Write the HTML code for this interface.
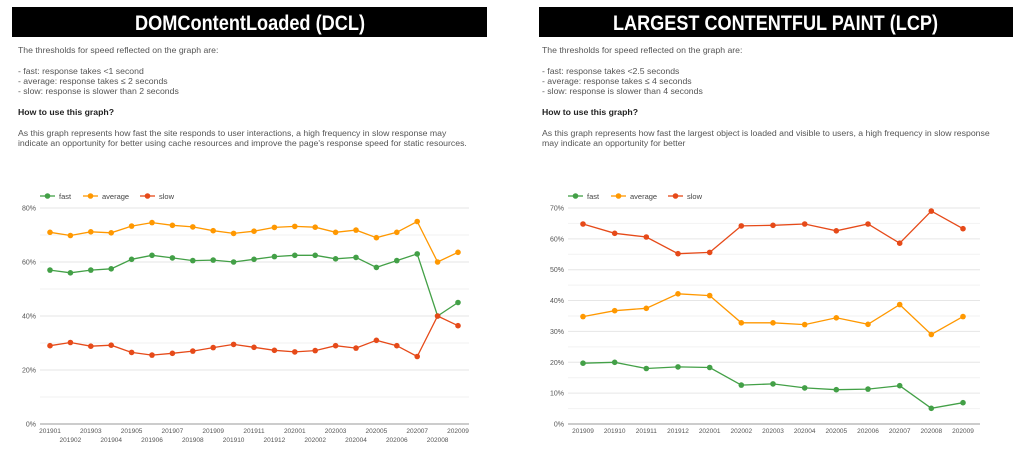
<!DOCTYPE html>
<html><head><meta charset="utf-8"><style>
body{margin:0;width:1024px;height:458px;background:#fff;overflow:hidden;font-family:"Liberation Sans",sans-serif}
svg{position:absolute;left:0;top:0}
</style></head><body>
<svg id="s" width="1024" height="458" xmlns="http://www.w3.org/2000/svg" font-family="Liberation Sans, sans-serif">
<rect x="12" y="7" width="475" height="30" fill="#000"/>
<text x="135" y="30" fill="#fff" font-size="21" font-weight="bold" textLength="230" lengthAdjust="spacingAndGlyphs">DOMContentLoaded (DCL)</text>
<rect x="539" y="7" width="474" height="30" fill="#000"/>
<text x="613" y="30" fill="#fff" font-size="21" font-weight="bold" textLength="325" lengthAdjust="spacingAndGlyphs">LARGEST CONTENTFUL PAINT (LCP)</text>
<g font-size="8.7" fill="#555">
<text x="18" y="53">The thresholds for speed reflected on the graph are:</text>
<text x="18" y="74">- fast: response takes &lt;1 second</text>
<text x="18" y="84">- average: response takes ≤ 2 seconds</text>
<text x="18" y="94">- slow: response is slower than 2 seconds</text>
<text x="18" y="115" font-weight="bold" fill="#222">How to use this graph?</text>
<text x="18" y="136">As this graph represents how fast the site responds to user interactions, a high frequency in slow response may</text>
<text x="18" y="146">indicate an opportunity for better using cache resources and improve the page's response speed for static resources.</text>
<text x="542" y="53">The thresholds for speed reflected on the graph are:</text>
<text x="542" y="74">- fast: response takes &lt;2.5 seconds</text>
<text x="542" y="84">- average: response takes ≤ 4 seconds</text>
<text x="542" y="94">- slow: response is slower than 4 seconds</text>
<text x="542" y="115" font-weight="bold" fill="#222">How to use this graph?</text>
<text x="542" y="136">As this graph represents how fast the largest object is loaded and visible to users, a high frequency in slow response</text>
<text x="542" y="146">may indicate an opportunity for better</text>
</g>
<g id="c"></g>
</svg>
<script>
var g=document.getElementById('c'),h='';
var C={f:'#43a047',a:'#ff9800',s:'#e64a19'};
function chart(o){
 var x0=o.x0,x1=o.x1,y0=424,sc=o.sc;
 for(var v=0;v<=o.max;v+=o.minor){var y=y0-v*sc;h+='<line x1="'+x0+'" x2="'+x1+'" y1="'+y+'" y2="'+y+'" stroke="'+(v%o.major==0?'#e6e6e6':'#f2f2f2')+'" stroke-width="1"/>';
  if(v%o.major==0)h+='<text x="'+(x0-4)+'" y="'+(y+2.5)+'" font-size="7" fill="#555" text-anchor="end">'+v+'%</text>';}
 h+='<line x1="'+x0+'" x2="'+x1+'" y1="'+y0+'" y2="'+y0+'" stroke="#999" stroke-width="1"/>';
 var n=o.labels.length,dx=(o.px1-o.px0)/(n-1);
 for(var i=0;i<n;i++){var x=o.px0+i*dx,ly=o.stag?(i%2?442:433):433;h+='<text x="'+x+'" y="'+ly+'" font-size="6.5" fill="#555" text-anchor="middle">'+o.labels[i]+'</text>';}
 ['f','a','s'].forEach(function(k){var p=o.d[k].map(function(v,i){return (o.px0+i*dx).toFixed(1)+','+(y0-v*sc).toFixed(1)});
  h+='<polyline points="'+p.join(' ')+'" fill="none" stroke="'+C[k]+'" stroke-width="1.3"/>';
  p.forEach(function(q){var a=q.split(',');h+='<circle cx="'+a[0]+'" cy="'+a[1]+'" r="2.8" fill="'+C[k]+'"/>';});});
 var lx=o.x0,ly=196,nm=[['f','fast'],['a','average'],['s','slow']],off=[0,43,100];
 nm.forEach(function(e,i){var x=lx+off[i];h+='<line x1="'+x+'" x2="'+(x+15)+'" y1="'+ly+'" y2="'+ly+'" stroke="'+C[e[0]]+'" stroke-width="1.3"/><circle cx="'+(x+7.5)+'" cy="'+ly+'" r="2.8" fill="'+C[e[0]]+'"/><text x="'+(x+19)+'" y="'+(ly+3)+'" font-size="7.5" fill="#444">'+e[1]+'</text>';});
}
var L1=[];for(var y=2019;y<=2020;y++)for(var m=1;m<=12;m++){if(y==2020&&m>9)break;L1.push(y+(m<10?'0':'')+m);}
chart({x0:40,x1:469,px0:50,px1:458,sc:2.7,max:80,major:20,minor:10,stag:true,labels:L1,d:{
f:[57,56,57,57.5,61,62.5,61.5,60.5,60.7,60,61,62,62.5,62.5,61.2,61.7,58,60.5,63,40,45],
a:[71,69.8,71.2,70.8,73.3,74.6,73.6,73,71.6,70.6,71.4,72.8,73.2,72.9,71,71.8,69,71,75,60,63.6],
s:[29,30.2,28.8,29.2,26.5,25.5,26.2,27,28.3,29.5,28.4,27.3,26.7,27.2,29,28.1,31,29,25,40,36.4]}});
chart({x0:568,x1:980,px0:583,px1:963,sc:3.086,max:70,major:10,minor:5,stag:false,labels:L1.slice(8),d:{
f:[19.7,20,18,18.5,18.3,12.6,13,11.7,11.1,11.3,12.4,5.1,6.9],
a:[34.8,36.7,37.5,42.2,41.6,32.8,32.8,32.2,34.4,32.3,38.7,29,34.8],
s:[64.8,61.8,60.6,55.2,55.6,64.2,64.4,64.8,62.6,64.8,58.6,69,63.3]}});
g.innerHTML=h;
</script>
</body></html>
